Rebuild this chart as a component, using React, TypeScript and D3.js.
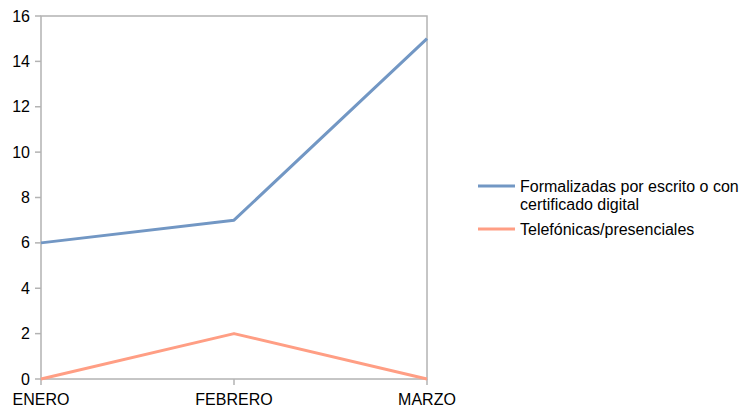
import React from 'react';
import * as d3 from 'd3';

const months = ['ENERO', 'FEBRERO', 'MARZO'];
const formalizadas = [6, 7, 15];
const telefonicas = [0, 2, 0];
const yTicks = [0, 2, 4, 6, 8, 10, 12, 14, 16];
const seriesNames = ['Formalizadas por escrito o con|certificado digital', 'Telefónicas/presenciales'];

const COLOR_BLUE = '#7297c4';
const COLOR_ORANGE = '#ff9e84';
const GRID = '#b3b3b3';

export default function App() {
  const width = 749;
  const height = 410;
  const left = 41, right = 427, top = 16, bottom = 379;

  const x = d3.scalePoint<string>().domain(months).range([left, right]);
  const y = d3.scaleLinear().domain([0, 16]).range([bottom, top]);

  const line = d3.line<number>()
    .x((_, i) => x(months[i]) as number)
    .y((d) => y(d));

  const series = [
    { name: seriesNames[0], values: formalizadas, color: COLOR_BLUE },
    { name: seriesNames[1], values: telefonicas, color: COLOR_ORANGE },
  ];

  return (
    <svg width={width} height={height} style={{ position: 'absolute', left: 0, top: 0, fontFamily: 'Liberation Sans, Arial, sans-serif' }}>
      <rect x={0} y={0} width={width} height={height} fill="#fff" />
      {/* plot frame */}
      <rect x={left} y={top} width={right - left} height={bottom - top} fill="none" stroke={GRID} strokeWidth={1.5} />
      {/* y ticks */}
      {yTicks.map((t) => (
        <g key={t}>
          <line x1={left - 6} x2={left} y1={y(t)} y2={y(t)} stroke={GRID} strokeWidth={1.5} />
          <text x={30} y={y(t)} dy="0.35em" textAnchor="end" fontSize={16} fill="#000">{t}</text>
        </g>
      ))}
      {/* x ticks */}
      {months.map((m) => (
        <g key={m}>
          <line x1={x(m)} x2={x(m)} y1={bottom} y2={bottom + 6} stroke={GRID} strokeWidth={1.5} />
          <text x={x(m)} y={405} textAnchor="middle" fontSize={16} fill="#000">{m}</text>
        </g>
      ))}
      {/* lines */}
      {series.map((s) => (
        <path key={s.name} d={line(s.values) || ''} fill="none" stroke={s.color} strokeWidth={3} strokeLinejoin="round" />
      ))}
      {/* legend */}
      <g>
        <line x1={478} x2={515} y1={186} y2={186} stroke={COLOR_BLUE} strokeWidth={3} />
        <text x={520} y={191.5} fontSize={16} fill="#000">
          {series[0].name.split('|').map((part, j) => (
            <tspan key={j} x={520} dy={j === 0 ? 0 : 18.5}>{part}</tspan>
          ))}
        </text>
        <line x1={478} x2={515} y1={229} y2={229} stroke={COLOR_ORANGE} strokeWidth={3} />
        <text x={520} y={234.5} fontSize={16} fill="#000">{series[1].name}</text>
      </g>
    </svg>
  );
}
